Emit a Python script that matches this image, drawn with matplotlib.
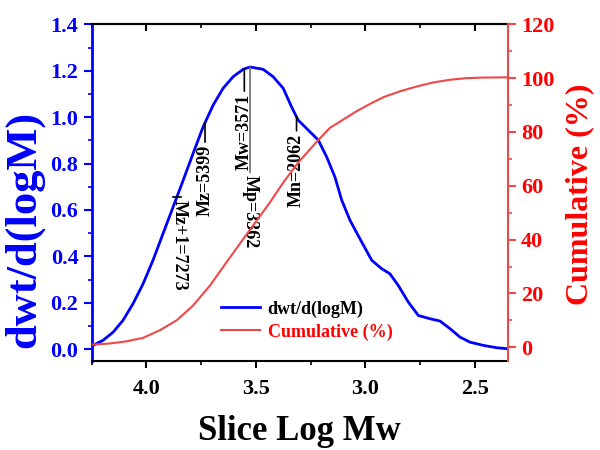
import matplotlib
matplotlib.use("Agg")
import matplotlib.pyplot as plt
import numpy as np
from matplotlib.lines import Line2D
from matplotlib.ticker import MultipleLocator

plt.rcParams["font.family"] = ["Liberation Serif", "DejaVu Serif"]
plt.rcParams["font.weight"] = "bold"
plt.rcParams["axes.labelweight"] = "bold"

BLUE = "#0000ff"
RED = "#ff0000"
RED_LINE = "#f04848"

# molecular weight distribution (slice log M vs dwt/d(logM))
dist_logm = [4.244, 4.198, 4.152, 4.107, 4.061, 4.015, 3.970, 3.924, 3.878,
             3.832, 3.787, 3.741, 3.695, 3.650, 3.604, 3.558, 3.527, 3.467,
             3.421, 3.375, 3.337, 3.307, 3.261, 3.215, 3.177, 3.139, 3.108,
             3.070, 3.025, 2.971, 2.926, 2.888, 2.850, 2.804, 2.758, 2.705,
             2.659, 2.613, 2.568, 2.522, 2.461, 2.400, 2.354]
dist_dwt = [0.016, 0.038, 0.073, 0.124, 0.196, 0.282, 0.383, 0.498, 0.613,
            0.728, 0.843, 0.958, 1.052, 1.124, 1.174, 1.206, 1.216, 1.206,
            1.174, 1.124, 1.044, 0.987, 0.944, 0.901, 0.829, 0.742, 0.642,
            0.555, 0.476, 0.383, 0.347, 0.325, 0.275, 0.203, 0.145, 0.131,
            0.121, 0.088, 0.052, 0.030, 0.016, 0.006, 0.002]

# cumulative weight fraction
cum_logm = [4.244, 4.167, 4.091, 4.015, 3.939, 3.862, 3.787, 3.710, 3.634,
            3.558, 3.497, 3.436, 3.375, 3.307, 3.215, 3.162, 3.101, 3.040,
            2.979, 2.918, 2.842, 2.765, 2.689, 2.613, 2.537, 2.461, 2.354]
cum_pct = [1.0, 1.4, 2.2, 3.5, 6.3, 10.0, 15.5, 22.9, 31.6,
           40.2, 47.0, 53.8, 61.2, 68.6, 77.0, 81.5, 84.6, 87.7,
           90.4, 92.9, 95.1, 96.9, 98.4, 99.4, 100.0, 100.2, 100.3]

# averages reported by the GPC software
avg_names = ["Mz+1", "Mz", "Mw", "Mp", "Mn"]
avg_values = [7273, 5399, 3571, 3362, 2062]

fig = plt.figure(figsize=(6, 4.5), dpi=100)
ax = fig.add_axes([0.1528, 0.1984, 0.6933, 0.7476])
ax2 = ax.twinx()

ax.plot(dist_logm, dist_dwt, color=BLUE, lw=2.0, zorder=3)
ax2.plot(cum_logm, cum_pct, color=RED_LINE, lw=1.5, zorder=2)

ax.set_xlim(4.25, 2.35)
ax.set_ylim(-0.05, 1.4)
ax2.set_ylim(-5, 120)

# annotation layout: (rotation, gap below the curve in points, line colour)
styles = {
    "Mz+1": (270, 0, "black"),
    "Mz": (90, 14, "black"),
    "Mw": (90, 16, "black"),
    "Mp": (270, 76, "#707070"),
    "Mn": (90, 10, "black"),
}
for name, value in zip(avg_names, avg_values):
    x = np.log10(value)
    y = np.interp(-x, -np.array(dist_logm), dist_dwt)
    rot, gap, lc = styles[name]
    label = f"{name}={value}"
    if name == "Mz+1":
        ax.plot([x + 0.015, x - 0.02], [y, y], color="black", lw=1.2, zorder=4)
        ax.annotate(label, (x, y), xytext=(2, -2), textcoords="offset points",
                    rotation=rot, ha="center", va="top", fontsize=13,
                    fontweight="bold", zorder=4)
        continue
    ax.annotate("", (x, y), xytext=(0, -gap), textcoords="offset points",
                arrowprops=dict(arrowstyle="-", color=lc, lw=1.2,
                                shrinkA=0, shrinkB=0), zorder=4)
    ax.annotate(label, (x, y), xytext=(0, -gap - 2), textcoords="offset points",
                rotation=rot, ha="center", va="top", fontsize=13,
                fontweight="bold", zorder=4)

# spines
ax.spines["left"].set_color(BLUE)
ax.spines["left"].set_linewidth(2.0)
ax.spines["bottom"].set_linewidth(1.5)
ax.spines["top"].set_linewidth(1.5)
ax.spines["right"].set_visible(False)
for side in ["left", "top", "bottom"]:
    ax2.spines[side].set_visible(False)
ax2.spines["right"].set_color(RED_LINE)
ax2.spines["right"].set_linewidth(1.5)

# ticks
ax.yaxis.set_major_locator(MultipleLocator(0.2))
ax.yaxis.set_minor_locator(MultipleLocator(0.1))
ax.xaxis.set_major_locator(MultipleLocator(0.5))
ax.xaxis.set_minor_locator(MultipleLocator(0.25))
ax2.yaxis.set_major_locator(MultipleLocator(20))
ax2.yaxis.set_minor_locator(MultipleLocator(10))

ax.tick_params(axis="y", which="major", direction="out", length=6, width=1.5,
               color=BLUE, labelcolor=BLUE, labelsize=16)
ax.tick_params(axis="y", which="minor", direction="out", length=3, width=1.2,
               color=BLUE)
ax.tick_params(axis="x", which="major", direction="out", length=5, width=1.5,
               labelsize=16, pad=8)
ax.tick_params(axis="x", which="minor", direction="out", length=3, width=1.2)
ax2.tick_params(axis="y", which="major", direction="out", length=6, width=1.5,
                color=RED_LINE, labelcolor=RED, labelsize=16)
ax2.tick_params(axis="y", which="minor", direction="out", length=3, width=1.2,
                color=RED_LINE)

top = ax.secondary_xaxis("top")
top.xaxis.set_major_locator(MultipleLocator(0.5))
top.xaxis.set_minor_locator(MultipleLocator(0.25))
top.tick_params(which="major", direction="in", length=5, width=1.5, labeltop=False)
top.tick_params(which="minor", direction="in", length=3, width=1.2)
top.spines["top"].set_linewidth(1.5)

ax.set_xlabel("Slice Log Mw", fontsize=25, fontweight="bold", labelpad=12)
ax.set_ylabel("dwt/d(logM)", fontsize=32, fontweight="bold", color=BLUE)
ax.yaxis.set_label_coords(-0.115, 0.39)
ax2.set_ylabel("Cumulative (%)", fontsize=23, fontweight="bold", color=RED)
ax2.yaxis.set_label_coords(1.138, 0.495)

handles = [Line2D([], [], color=BLUE, lw=2.0),
           Line2D([], [], color=RED_LINE, lw=1.5)]
leg = ax2.legend(handles, ["dwt/d(logM)", "Cumulative (%)"], loc="lower left",
                 bbox_to_anchor=(0.31, 0.06), frameon=False, fontsize=13,
                 handlelength=2.2, handletextpad=0.4, labelspacing=0.3,
                 borderpad=0, borderaxespad=0)
for text in leg.get_texts():
    text.set_fontweight("bold")
leg.get_texts()[1].set_color(RED)

fig.savefig("out.png", dpi=100, facecolor="white")
